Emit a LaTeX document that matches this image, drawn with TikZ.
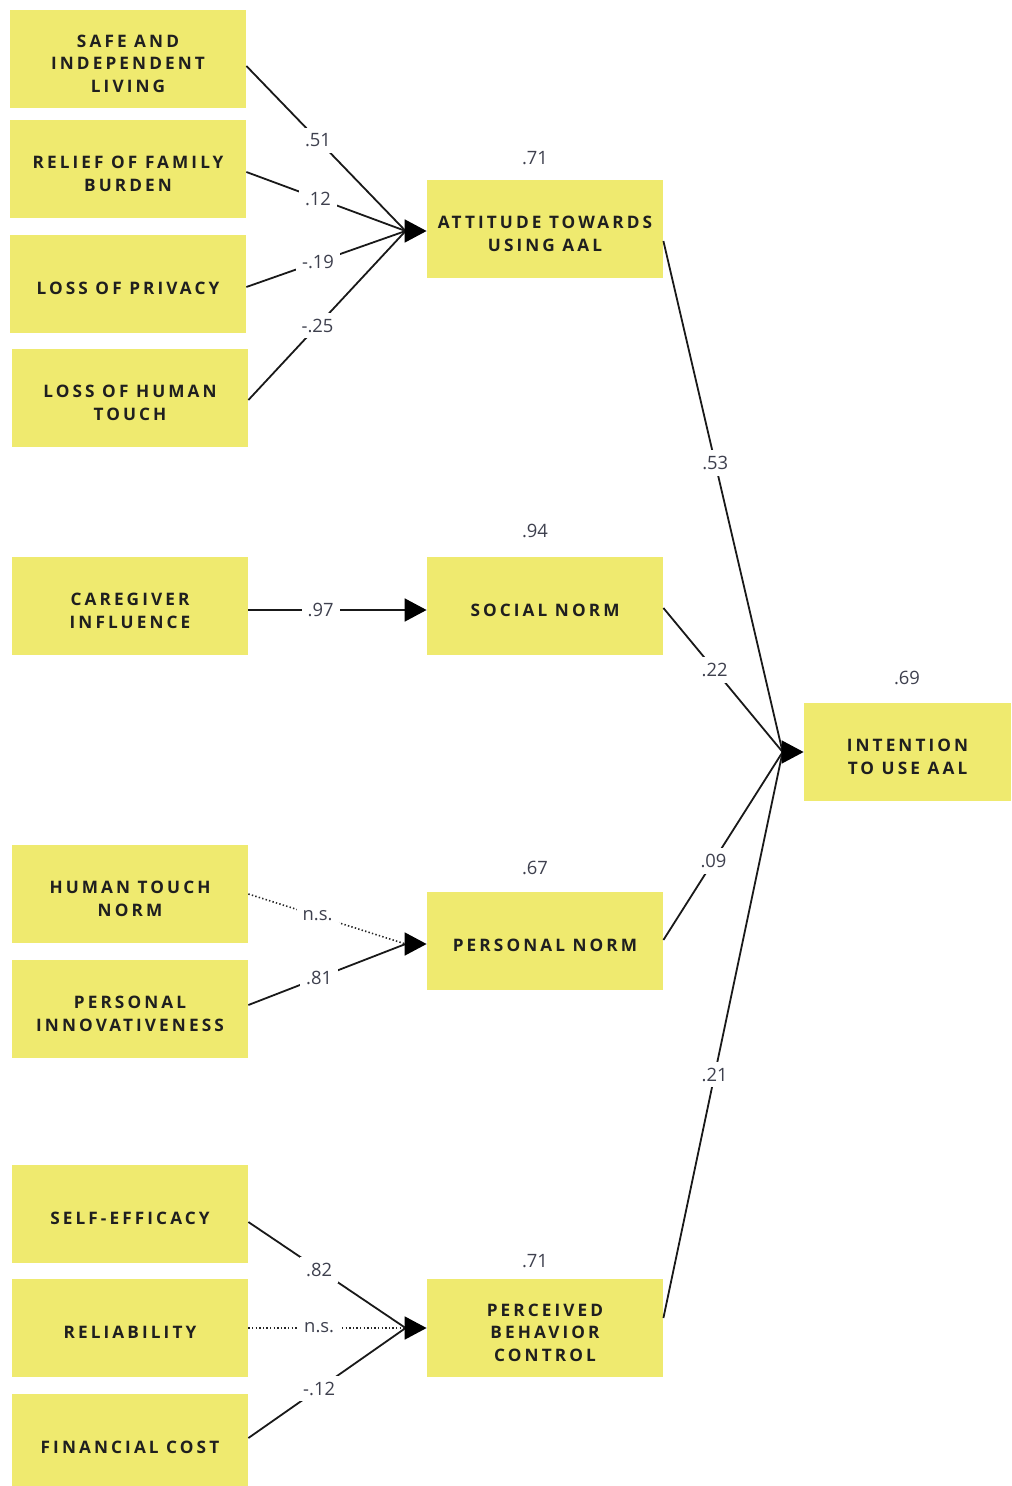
\documentclass[tikz,border=0pt]{standalone}
\usepackage{fontspec}
\setmainfont{Open Sans}
\newfontfamily\boxfont[LetterSpace=18]{Open Sans}
\usetikzlibrary{arrows.meta}
\definecolor{boxyellow}{RGB}{239,234,111}
\definecolor{labelgray}{RGB}{62,64,78}
\begin{document}
\begin{tikzpicture}[x=0.5pt,y=-0.5pt,
  box/.style={fill=boxyellow, minimum width=118pt, minimum height=49pt, inner sep=0pt},
  bt/.style={align=center, inner sep=0pt, yshift=-2.4pt, text=black!88,
    font=\boxfont\bfseries\fontsize{8.6}{11.3}\selectfont},
  wide/.style={minimum width=103.5pt},
  conn/.style={line width=0.9pt, black!90},
  nsconn/.style={line width=0.8pt, black!85, dash pattern=on 0.7pt off 1.1pt},
  head/.style={line width=0.9pt, -{Triangle[length=11pt,width=11.5pt]}},
  coef/.style={fill=white, inner sep=3pt, text=labelgray, font=\fontsize{9.2}{10}\selectfont},
  rsq/.style={text=labelgray, inner sep=0pt, font=\fontsize{9.2}{10}\selectfont}
]
\useasboundingbox (0,0) rectangle (1011,1486);

% left-hand constructs
\node[box,label={[bt]center:SAFE AND\\INDEPENDENT\\LIVING}] (safe) at (128,59) {};
\node[box,label={[bt]center:RELIEF OF FAMILY\\BURDEN}] (relief) at (128,169) {};
\node[box,label={[bt]center:LOSS OF PRIVACY}] (priv) at (128,284) {};
\node[box,label={[bt]center:LOSS OF HUMAN\\TOUCH}] (touch) at (130,398) {};
\node[box,label={[bt]center:CAREGIVER\\INFLUENCE}] (care) at (130,606) {};
\node[box,label={[bt]center:HUMAN TOUCH\\NORM}] (htn) at (130,894) {};
\node[box,label={[bt]center:PERSONAL\\INNOVATIVENESS}] (innov) at (130,1009) {};
\node[box,label={[bt]center:SELF-EFFICACY}] (selfe) at (130,1214) {};
\node[box,label={[bt]center:RELIABILITY}] (rel) at (130,1328) {};
\node[box,label={[bt]center:FINANCIAL COST}] (cost) at (130,1443) {};

% middle constructs
\node[box,label={[bt]center:ATTITUDE TOWARDS\\USING AAL}] (att) at (545,229) {};
\node[box,label={[bt]center:SOCIAL NORM}] (sn) at (545,606) {};
\node[box,label={[bt]center:PERSONAL NORM}] (pn) at (545,941) {};
\node[box,label={[bt]center:PERCEIVED\\BEHAVIOR\\CONTROL}] (pbc) at (545,1328) {};

% outcome
\node[box,wide,label={[bt]center:INTENTION\\TO USE AAL}] (int) at (907.5,752) {};

% R-squared values
\node[rsq] (r1) at (535,158)  {.71};
\node[rsq] (r2) at (535,531)  {.94};
\node[rsq] (r3) at (535,868)  {.67};
\node[rsq] (r4) at (535,1261) {.71};
\node[rsq] (r5) at (907,678)  {.69};

% arrowhead bases
\coordinate (attH) at ([xshift=-10.5pt,yshift=-1pt]att.west);
\coordinate (snH)  at ([xshift=-10.5pt,yshift=-2pt]sn.west);
\coordinate (pnH)  at ([xshift=-10.5pt,yshift=-1.5pt]pn.west);
\coordinate (pbcH) at ([xshift=-10.5pt]pbc.west);
\coordinate (intH) at ([xshift=-10.5pt]int.west);

% paths to attitude
\draw[conn] ([yshift=-3.5pt]safe.east) -- node[coef,pos=0.45]{.51} (attH);
\draw[conn] ([yshift=-1.5pt]relief.east) -- node[coef,pos=0.45]{.12} (attH);
\draw[conn] ([yshift=-1.5pt]priv.east) -- node[coef,pos=0.45]{-.19} (attH);
\draw[conn] ([yshift=-1pt]touch.east) -- node[coef,pos=0.44]{-.25} (attH);
\draw[head] (attH) -- ([yshift=-1pt]att.west);

% social norm
\draw[conn] ([yshift=-2pt]care.east) -- node[coef,pos=0.46]{.97} (snH);
\draw[head] (snH) -- ([yshift=-2pt]sn.west);

% personal norm
\draw[nsconn] (htn.east) -- node[coef,pos=0.44]{n.s.} (pnH);
\draw[conn] ([yshift=2pt]innov.east) -- node[coef,pos=0.45]{.81} (pnH);
\draw[head] (pnH) -- ([yshift=-1.5pt]pn.west);

% perceived behaviour control
\draw[conn] ([yshift=-4pt]selfe.east) -- node[coef,pos=0.45]{.82} (pbcH);
\draw[nsconn] (rel.east) -- node[coef,pos=0.45]{n.s.} (pbcH);
\draw[conn] ([yshift=2.5pt]cost.east) -- node[coef,pos=0.45]{-.12} (pbcH);
\draw[head] (pbcH) -- (pbc.west);

% paths to intention
\draw[conn] ([yshift=-6pt]att.east) -- node[coef,pos=0.435]{.53} (intH);
\draw[conn] ([yshift=-1pt]sn.east) -- node[coef,pos=0.43]{.22} (intH);
\draw[conn] ([yshift=0.5pt]pn.east) -- node[coef,pos=0.42]{.09} (intH);
\draw[conn] ([yshift=5pt]pbc.east) -- node[coef,pos=0.43]{.21} (intH);
\draw[head] (intH) -- (int.west);
\end{tikzpicture}
\end{document}
